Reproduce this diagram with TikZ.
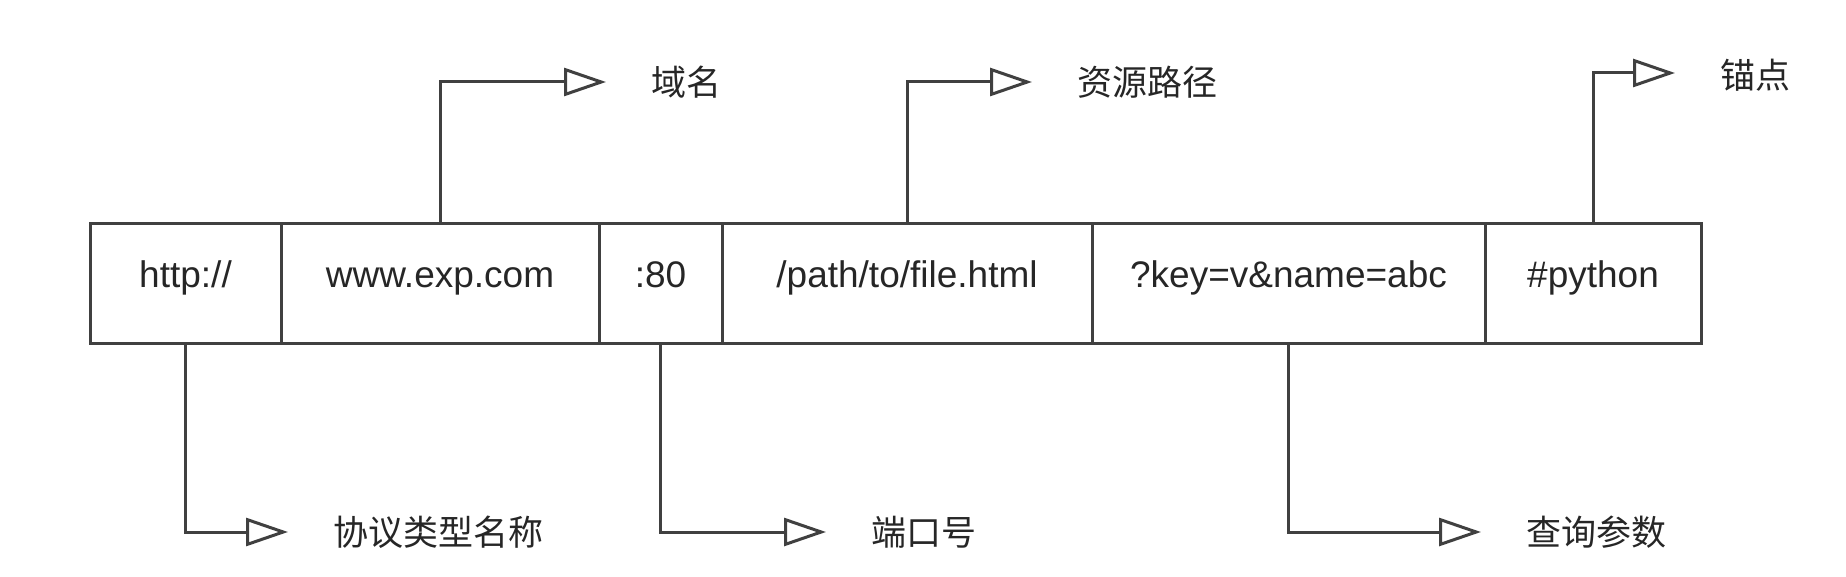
\documentclass[tikz,border=0pt]{standalone}
\usepackage{fontspec}
\setmainfont{Liberation Sans}
\newfontfamily\cjk{Noto Sans CJK SC}
\usetikzlibrary{arrows.meta,positioning}

\begin{document}
\begin{tikzpicture}[x=1pt,y=-1pt,->,>={Triangle[open,length=42pt,width=28pt]},
                    line width=3pt,color=black!75]
  \tikzstyle{part}=[draw,minimum height=119pt,inner sep=0pt,outer sep=0pt,
                    text height=0.86em,text depth=0.1em,
                    text=black!85,font=\fontsize{37}{40}\selectfont]
  \tikzstyle{lbl}=[anchor=west,inner sep=0pt,text=black!85,
                   font=\cjk\fontsize{35}{40}\selectfont]
  \useasboundingbox (0,0) rectangle (1846,577);

  % url parts
  \node[part,minimum width=191pt,anchor=west] (proto) at (90,283.5) {http://};
  \node[part,minimum width=318pt] (host)  [right=0pt of proto] {www.exp.com};
  \node[part,minimum width=123pt] (port)  [right=0pt of host]  {:80};
  \node[part,minimum width=370pt] (path)  [right=0pt of port]  {/path/to/file.html};
  \node[part,minimum width=393pt] (query) [right=0pt of path]  {?key=v\&name=abc};
  \node[part,minimum width=216pt] (frag)  [right=0pt of query] {\#python};

  % labels
  \node[lbl] (hostlbl)  at (650,82)   {域名};
  \node[lbl] (pathlbl)  at (1076,82)  {资源路径};
  \node[lbl] (fraglbl)  at (1719,75)  {锚点};
  \node[lbl] (protolbl) at (332,532)  {协议类型名称};
  \node[lbl] (portlbl)  at (870,532)  {端口号};
  \node[lbl] (querylbl) at (1525,532) {查询参数};

  \draw (host.north)  |- ([xshift=-44pt]hostlbl.west);
  \draw (path.north)  |- ([xshift=-44pt]pathlbl.west);
  \draw (frag.north)  |- ([xshift=-44pt,yshift=2pt]fraglbl.west);
  \draw (proto.south) |- ([xshift=-44pt]protolbl.west);
  \draw (port.south)  |- ([xshift=-44pt]portlbl.west);
  \draw (query.south) |- ([xshift=-44pt]querylbl.west);
\end{tikzpicture}
\end{document}
